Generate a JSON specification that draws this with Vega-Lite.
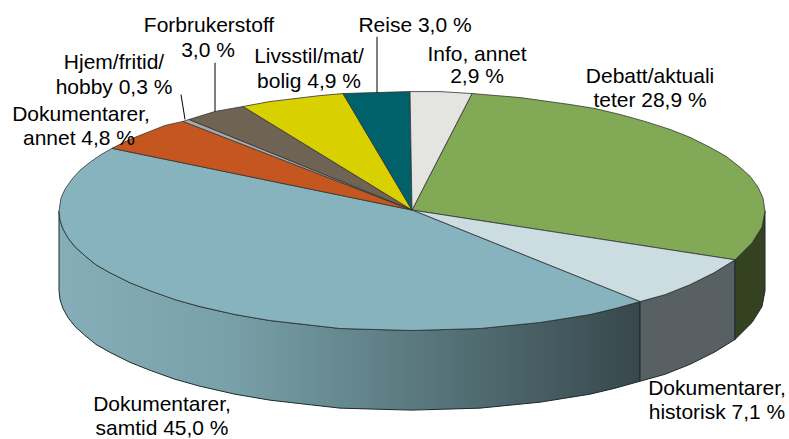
{"$schema":"https://vega.github.io/schema/vega-lite/v6.json","width":789,"height":439,"autosize":{"type":"fit","contains":"padding"},"padding":0,"background":"white","config":{"view":{"stroke":null}},
"datasets":{"shapes":[
{"s":"sideS","i":1,"x":59,"y":212},{"s":"sideS","i":2,"x":60,"y":221},{"s":"sideS","i":3,"x":63,"y":230},{"s":"sideS","i":4,"x":68,"y":239},{"s":"sideS","i":5,"x":75,"y":248},{"s":"sideS","i":6,"x":85,"y":257},{"s":"sideS","i":7,"x":96,"y":266},{"s":"sideS","i":8,"x":110,"y":274},{"s":"sideS","i":9,"x":130,"y":284},{"s":"sideS","i":10,"x":150,"y":292},{"s":"sideS","i":11,"x":175,"y":301},{"s":"sideS","i":12,"x":200,"y":308},{"s":"sideS","i":13,"x":235,"y":316},{"s":"sideS","i":14,"x":270,"y":322},{"s":"sideS","i":15,"x":305,"y":326},{"s":"sideS","i":16,"x":340,"y":330},{"s":"sideS","i":17,"x":375,"y":331},{"s":"sideS","i":18,"x":412,"y":332},{"s":"sideS","i":19,"x":446,"y":331},{"s":"sideS","i":20,"x":480,"y":330},{"s":"sideS","i":21,"x":510,"y":327},{"s":"sideS","i":22,"x":540,"y":324},{"s":"sideS","i":23,"x":565,"y":320},{"s":"sideS","i":24,"x":590,"y":316},{"s":"sideS","i":25,"x":615,"y":310},{"s":"sideS","i":26,"x":640,"y":303},{"s":"sideS","i":27,"x":640,"y":383},{"s":"sideS","i":28,"x":615,"y":390},{"s":"sideS","i":29,"x":590,"y":396},{"s":"sideS","i":30,"x":565,"y":400},{"s":"sideS","i":31,"x":540,"y":404},{"s":"sideS","i":32,"x":510,"y":407},{"s":"sideS","i":33,"x":480,"y":410},{"s":"sideS","i":34,"x":446,"y":411},{"s":"sideS","i":35,"x":412,"y":412},{"s":"sideS","i":36,"x":375,"y":411},{"s":"sideS","i":37,"x":340,"y":410},{"s":"sideS","i":38,"x":305,"y":406},{"s":"sideS","i":39,"x":270,"y":402},{"s":"sideS","i":40,"x":235,"y":396},{"s":"sideS","i":41,"x":200,"y":388},{"s":"sideS","i":42,"x":175,"y":381},{"s":"sideS","i":43,"x":150,"y":372},{"s":"sideS","i":44,"x":130,"y":364},{"s":"sideS","i":45,"x":110,"y":354},{"s":"sideS","i":46,"x":96,"y":346},{"s":"sideS","i":47,"x":85,"y":337},{"s":"sideS","i":48,"x":75,"y":328},{"s":"sideS","i":49,"x":68,"y":319},{"s":"sideS","i":50,"x":63,"y":310},{"s":"sideS","i":51,"x":60,"y":301},{"s":"sideS","i":52,"x":59,"y":292},{"s":"sideS","i":53,"x":59,"y":212},
{"s":"sideH","i":1,"x":640,"y":303},{"s":"sideH","i":2,"x":665,"y":296},{"s":"sideH","i":3,"x":690,"y":286},{"s":"sideH","i":4,"x":714,"y":274},{"s":"sideH","i":5,"x":735,"y":261},{"s":"sideH","i":6,"x":735,"y":341},{"s":"sideH","i":7,"x":714,"y":354},{"s":"sideH","i":8,"x":690,"y":366},{"s":"sideH","i":9,"x":665,"y":376},{"s":"sideH","i":10,"x":640,"y":383},{"s":"sideH","i":11,"x":640,"y":303},
{"s":"sideD","i":1,"x":735,"y":261},{"s":"sideD","i":2,"x":752,"y":244},{"s":"sideD","i":3,"x":762,"y":228},{"s":"sideD","i":4,"x":765,"y":212},{"s":"sideD","i":5,"x":765,"y":292},{"s":"sideD","i":6,"x":762,"y":308},{"s":"sideD","i":7,"x":752,"y":324},{"s":"sideD","i":8,"x":735,"y":341},{"s":"sideD","i":9,"x":735,"y":261},
{"s":"debatt","i":1,"x":412,"y":211},{"s":"debatt","i":2,"x":472,"y":94},{"s":"debatt","i":3,"x":520,"y":98},{"s":"debatt","i":4,"x":570,"y":105},{"s":"debatt","i":5,"x":595,"y":109},{"s":"debatt","i":6,"x":620,"y":115},{"s":"debatt","i":7,"x":645,"y":122},{"s":"debatt","i":8,"x":670,"y":130},{"s":"debatt","i":9,"x":690,"y":138},{"s":"debatt","i":10,"x":710,"y":148},{"s":"debatt","i":11,"x":726,"y":157},{"s":"debatt","i":12,"x":740,"y":168},{"s":"debatt","i":13,"x":750,"y":177},{"s":"debatt","i":14,"x":758,"y":188},{"s":"debatt","i":15,"x":763,"y":199},{"s":"debatt","i":16,"x":765,"y":212},{"s":"debatt","i":17,"x":762,"y":228},{"s":"debatt","i":18,"x":752,"y":244},{"s":"debatt","i":19,"x":735,"y":261},{"s":"debatt","i":20,"x":412,"y":211},
{"s":"hist","i":1,"x":412,"y":211},{"s":"hist","i":2,"x":735,"y":261},{"s":"hist","i":3,"x":714,"y":274},{"s":"hist","i":4,"x":690,"y":286},{"s":"hist","i":5,"x":665,"y":296},{"s":"hist","i":6,"x":640,"y":303},{"s":"hist","i":7,"x":412,"y":211},
{"s":"samtid","i":1,"x":412,"y":211},{"s":"samtid","i":2,"x":640,"y":303},{"s":"samtid","i":3,"x":615,"y":310},{"s":"samtid","i":4,"x":590,"y":316},{"s":"samtid","i":5,"x":565,"y":320},{"s":"samtid","i":6,"x":540,"y":324},{"s":"samtid","i":7,"x":510,"y":327},{"s":"samtid","i":8,"x":480,"y":330},{"s":"samtid","i":9,"x":446,"y":331},{"s":"samtid","i":10,"x":412,"y":332},{"s":"samtid","i":11,"x":375,"y":331},{"s":"samtid","i":12,"x":340,"y":330},{"s":"samtid","i":13,"x":305,"y":326},{"s":"samtid","i":14,"x":270,"y":322},{"s":"samtid","i":15,"x":235,"y":316},{"s":"samtid","i":16,"x":200,"y":308},{"s":"samtid","i":17,"x":175,"y":301},{"s":"samtid","i":18,"x":150,"y":292},{"s":"samtid","i":19,"x":130,"y":284},{"s":"samtid","i":20,"x":110,"y":274},{"s":"samtid","i":21,"x":96,"y":266},{"s":"samtid","i":22,"x":85,"y":257},{"s":"samtid","i":23,"x":75,"y":248},{"s":"samtid","i":24,"x":68,"y":239},{"s":"samtid","i":25,"x":63,"y":230},{"s":"samtid","i":26,"x":60,"y":221},{"s":"samtid","i":27,"x":59,"y":212},{"s":"samtid","i":28,"x":61,"y":199},{"s":"samtid","i":29,"x":65,"y":190},{"s":"samtid","i":30,"x":72,"y":180},{"s":"samtid","i":31,"x":80,"y":171},{"s":"samtid","i":32,"x":90,"y":163},{"s":"samtid","i":33,"x":100,"y":156},{"s":"samtid","i":34,"x":112,"y":149},{"s":"samtid","i":35,"x":412,"y":211},
{"s":"annet","i":1,"x":412,"y":211},{"s":"annet","i":2,"x":112,"y":149},{"s":"annet","i":3,"x":130,"y":140},{"s":"annet","i":4,"x":150,"y":132},{"s":"annet","i":5,"x":165,"y":126},{"s":"annet","i":6,"x":183,"y":122},{"s":"annet","i":7,"x":412,"y":211},
{"s":"hjem","i":1,"x":412,"y":211},{"s":"hjem","i":2,"x":183,"y":122},{"s":"hjem","i":3,"x":189,"y":120},{"s":"hjem","i":4,"x":412,"y":211},
{"s":"forb","i":1,"x":412,"y":211},{"s":"forb","i":2,"x":189,"y":120},{"s":"forb","i":3,"x":215,"y":112},{"s":"forb","i":4,"x":243,"y":107},{"s":"forb","i":5,"x":412,"y":211},
{"s":"livs","i":1,"x":412,"y":211},{"s":"livs","i":2,"x":243,"y":107},{"s":"livs","i":3,"x":270,"y":102},{"s":"livs","i":4,"x":295,"y":99},{"s":"livs","i":5,"x":320,"y":96},{"s":"livs","i":6,"x":343,"y":94},{"s":"livs","i":7,"x":412,"y":211},
{"s":"reise","i":1,"x":412,"y":211},{"s":"reise","i":2,"x":343,"y":94},{"s":"reise","i":3,"x":375,"y":93},{"s":"reise","i":4,"x":410,"y":92},{"s":"reise","i":5,"x":412,"y":211},
{"s":"info","i":1,"x":412,"y":211},{"s":"info","i":2,"x":410,"y":92},{"s":"info","i":3,"x":440,"y":92},{"s":"info","i":4,"x":472,"y":94},{"s":"info","i":5,"x":412,"y":211}],
"leaders":[{"s":"a","i":1,"x":181,"y":95},{"s":"a","i":2,"x":185,"y":120},{"s":"b","i":1,"x":215,"y":63},{"s":"b","i":2,"x":215,"y":112},{"s":"c","i":1,"x":377,"y":37},{"s":"c","i":2,"x":377,"y":93}],
"labels":[{"t":"Forbrukerstoff","x":209,"y":32},{"t":"3,0 %","x":208,"y":57},{"t":"Hjem/fritid/","x":114,"y":69},{"t":"hobby 0,3 %","x":114,"y":94},{"t":"Dokumentarer,","x":81,"y":122},{"t":"annet 4,8 %","x":79,"y":146},{"t":"Livsstil/mat/","x":309,"y":63},{"t":"bolig 4,9 %","x":309,"y":88},{"t":"Reise 3,0 %","x":415,"y":32},{"t":"Info, annet","x":477,"y":61},{"t":"2,9 %","x":477,"y":83},{"t":"Debatt/aktuali","x":650,"y":83},{"t":"teter 28,9 %","x":650,"y":107},{"t":"Dokumentarer,","x":717,"y":397},{"t":"historisk 7,1 %","x":717,"y":421},{"t":"Dokumentarer,","x":162,"y":413},{"t":"samtid 45,0 %","x":162,"y":437}]},
"encoding":{"x":{"field":"x","type":"quantitative","scale":{"domain":[0,789]},"axis":null},"y":{"field":"y","type":"quantitative","scale":{"domain":[439,0]},"axis":null}},
"layer":[
{"data":{"name":"shapes"},"transform":[{"filter":"datum.s==='sideS'"}],"mark":{"type":"line","strokeWidth":1,"stroke":"#1e2a2c","fill":{"gradient":"linear","x1":0,"x2":1,"y1":0,"y2":0,"stops":[{"offset":0,"color":"#86aeb8"},{"offset":0.3,"color":"#78a0a8"},{"offset":0.58,"color":"#5d7d83"},{"offset":1,"color":"#37484c"}]}},"encoding":{"order":{"field":"i","type":"quantitative"}}},
{"data":{"name":"shapes"},"transform":[{"filter":"datum.s==='sideH'"}],"mark":{"type":"line","strokeWidth":1,"stroke":"#1e2a2c","fill":"#586063"},"encoding":{"order":{"field":"i","type":"quantitative"}}},
{"data":{"name":"shapes"},"transform":[{"filter":"datum.s==='sideD'"}],"mark":{"type":"line","strokeWidth":1,"stroke":"#1e2a2c","fill":"#344222"},"encoding":{"order":{"field":"i","type":"quantitative"}}},
{"data":{"name":"shapes"},"transform":[{"filter":"datum.s==='debatt'"}],"mark":{"type":"line","strokeWidth":0.8,"stroke":"#333333","fill":"#82a956"},"encoding":{"order":{"field":"i","type":"quantitative"}}},
{"data":{"name":"shapes"},"transform":[{"filter":"datum.s==='hist'"}],"mark":{"type":"line","strokeWidth":0.8,"stroke":"#333333","fill":"#cbdde0"},"encoding":{"order":{"field":"i","type":"quantitative"}}},
{"data":{"name":"shapes"},"transform":[{"filter":"datum.s==='samtid'"}],"mark":{"type":"line","strokeWidth":0.8,"stroke":"#333333","fill":"#86b3bd"},"encoding":{"order":{"field":"i","type":"quantitative"}}},
{"data":{"name":"shapes"},"transform":[{"filter":"datum.s==='annet'"}],"mark":{"type":"line","strokeWidth":0.8,"stroke":"#333333","fill":"#c6561f"},"encoding":{"order":{"field":"i","type":"quantitative"}}},
{"data":{"name":"shapes"},"transform":[{"filter":"datum.s==='hjem'"}],"mark":{"type":"line","strokeWidth":0.8,"stroke":"#333333","fill":"#a8a8a8"},"encoding":{"order":{"field":"i","type":"quantitative"}}},
{"data":{"name":"shapes"},"transform":[{"filter":"datum.s==='forb'"}],"mark":{"type":"line","strokeWidth":0.8,"stroke":"#333333","fill":"#6f6454"},"encoding":{"order":{"field":"i","type":"quantitative"}}},
{"data":{"name":"shapes"},"transform":[{"filter":"datum.s==='livs'"}],"mark":{"type":"line","strokeWidth":0.8,"stroke":"#333333","fill":"#d9d000"},"encoding":{"order":{"field":"i","type":"quantitative"}}},
{"data":{"name":"shapes"},"transform":[{"filter":"datum.s==='reise'"}],"mark":{"type":"line","strokeWidth":0.8,"stroke":"#333333","fill":"#00616a"},"encoding":{"order":{"field":"i","type":"quantitative"}}},
{"data":{"name":"shapes"},"transform":[{"filter":"datum.s==='info'"}],"mark":{"type":"line","strokeWidth":0.8,"stroke":"#333333","fill":"#e4e4e0"},"encoding":{"order":{"field":"i","type":"quantitative"}}},
{"data":{"name":"leaders"},"mark":{"type":"line","stroke":"#000000","strokeWidth":1},"encoding":{"detail":{"field":"s"},"order":{"field":"i","type":"quantitative"}}},
{"data":{"name":"labels"},"mark":{"type":"text","font":"Liberation Sans","fontSize":21,"align":"center","baseline":"alphabetic","color":"#000000"},"encoding":{"text":{"field":"t"}}}
]}
